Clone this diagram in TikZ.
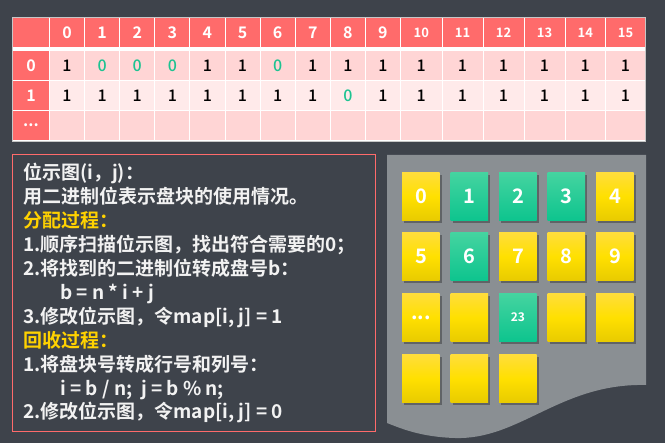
\documentclass[tikz,border=0pt]{standalone}
\usepackage{fontspec}
\setmainfont{Noto Sans CJK SC}[BoldFont={Noto Sans CJK SC Bold}]
\newfontfamily\medfont{Noto Sans CJK SC Medium}
\usetikzlibrary{shadows}
\definecolor{bg}{HTML}{3E434B}
\definecolor{hdr}{HTML}{FF6B6B}
\definecolor{rowa}{HTML}{FFD5D5}
\definecolor{rowb}{HTML}{FFEAEA}
\definecolor{grn}{HTML}{1DC391}
\definecolor{gold}{HTML}{FFD200}
\definecolor{txt}{HTML}{F2F2F2}
\definecolor{panel}{HTML}{8A8F93}
\definecolor{ytop}{HTML}{FFDD3C}
\definecolor{ymid}{HTML}{FFE000}
\definecolor{ybot}{HTML}{E8CB00}
\definecolor{gtop}{HTML}{45D4A0}
\definecolor{gbot}{HTML}{0DC48E}
\tikzset{
  cell/.style={draw=white, line width=1pt, minimum height=30pt, inner sep=0pt, anchor=north west},
  hnum/.style={text=white, font=\bfseries\fontsize{16}{16}\selectfont},
  hsmall/.style={text=white, font=\bfseries\fontsize{13}{13}\selectfont},
  vnum/.style={font=\medfont\fontsize{16}{16}\selectfont},
  line/.style={anchor=base west, inner sep=0pt, text=txt, font=\bfseries\fontsize{19}{19}\selectfont},
  head/.style={line, text=gold},
  ytile/.style={minimum width=37.5pt, minimum height=48.5pt, inner sep=0pt, anchor=north west,
     top color=ytop, bottom color=ybot, middle color=ymid,
     drop shadow={shadow xshift=2pt, shadow yshift=-2.5pt, opacity=0.3, fill=black},
     text=white, font=\bfseries\fontsize{20}{20}\selectfont},
  gtile/.style={ytile, top color=gtop, bottom color=gbot, middle color=gtop!50!gbot},
}
\begin{document}
\begin{tikzpicture}[x=1pt,y=-1pt]
\useasboundingbox (0,0) rectangle (665,443);
\fill[bg] (0,0) rectangle (665,443);

% ---------- table ----------
\def\xl{{49,84.1,119.2,154.3,189.4,224.5,259.6,294.7,329.8,364.9,400,441.5,482.5,523.5,564.5,605,645}}
\def\ra{{1,0,0,0,1,1,0,1,1,1,1,1,1,1,1,1}}
\def\rb{{1,1,1,1,1,1,1,1,0,1,1,1,1,1,1,1}}
\node[cell, fill=hdr, minimum width=37pt] (h) at (12,17) {};
\node[cell, fill=hdr, minimum width=37pt, hnum] (l0) at (12,50) {0};
\node[cell, fill=hdr, minimum width=37pt, hnum] (l1) at (12,80) {1};
\node[cell, fill=hdr, minimum width=37pt, hnum] (l2) at (12,110) {...};
\foreach \k in {0,...,15}{
  \pgfmathsetmacro\a{\xl[\k]}
  \pgfmathsetmacro\w{\xl[\k+1]-\xl[\k]}
  \pgfmathtruncatemacro\va{\ra[\k]}
  \pgfmathtruncatemacro\vb{\rb[\k]}
  \ifnum\k<10
    \node[cell, fill=hdr, minimum width=\w pt, hnum] (h\k) at (\a,17) {\k};
  \else
    \node[cell, fill=hdr, minimum width=\w pt, hsmall] (h\k) at (\a,17) {\k};
  \fi
  \ifnum\va=0 \def\ca{grn}\else\def\ca{black}\fi
  \ifnum\vb=0 \def\cb{grn}\else\def\cb{black}\fi
  \node[cell, fill=rowa, minimum width=\w pt, vnum, text=\ca] (a\k) at (\a,50) {\va};
  \node[cell, fill=rowb, minimum width=\w pt, vnum, text=\cb] (b\k) at (\a,80) {\vb};
  \node[cell, fill=rowa, minimum width=\w pt] (c\k) at (\a,110) {};
}
\fill[white] (12,47) rectangle (645,50);
\draw[gray!45, line width=0.8pt] (12,17) rectangle (645,141);

% ---------- text box ----------
\draw[hdr, line width=1pt] (12,155) rectangle (375,432);
\node[line] (t1) at (23,180) {位示图(i，j)：};
\node[line] (t2) at (23,203.9) {用二进制位表示盘块的使用情况。};
\node[head] (t3) at (23,227.8) {分配过程：};
\node[line] (t4) at (23,251.7) {1.顺序扫描位示图，找出符合需要的0；};
\node[line] (t5) at (23,275.6) {2.将找到的二进制位转成盘号b：};
\node[line] (t6) at (60,299.5) {b = n * i + j};
\node[line] (t7) at (23,323.4) {3.修改位示图，令map[i, j] = 1};
\node[head] (t8) at (23,347.3) {回收过程：};
\node[line] (t9) at (23,371.2) {1.将盘块号转成行号和列号：};
\node[line] (t10) at (60,395.1) {i = b / n;\ \ j = b \% n;};
\node[line] (t11) at (23,419) {2.修改位示图，令map[i, j] = 0};

% ---------- disk panel ----------
\fill[panel] (387,155) -- (646,155) -- (646,385)
  .. controls (560,383) and (520,440) .. (455,438)
  .. controls (420,437) and (400,428) .. (387,423) -- cycle;

\node[ytile] (d0) at (402,172) {0};
\node[gtile] (d1) at (450.5,172) {1};
\node[gtile] (d2) at (499,172) {2};
\node[gtile] (d3) at (547.5,172) {3};
\node[ytile] (d4) at (596,172) {4};
\node[ytile] (d5) at (402,232) {5};
\node[gtile] (d6) at (450.5,232) {6};
\node[ytile] (d7) at (499,232) {7};
\node[ytile] (d8) at (547.5,232) {8};
\node[ytile] (d9) at (596,232) {9};
\node[ytile] (e0) at (402,293) {...};
\node[ytile] (e1) at (450.5,293) {};
\node[gtile, font=\bfseries\fontsize{12}{12}\selectfont] (e2) at (499,293) {23};
\node[ytile] (e3) at (547.5,293) {};
\node[ytile] (e4) at (596,293) {};
\node[ytile] (f0) at (402,354) {};
\node[ytile] (f1) at (450.5,354) {};
\node[ytile] (f2) at (499,354) {};
\end{tikzpicture}
\end{document}
